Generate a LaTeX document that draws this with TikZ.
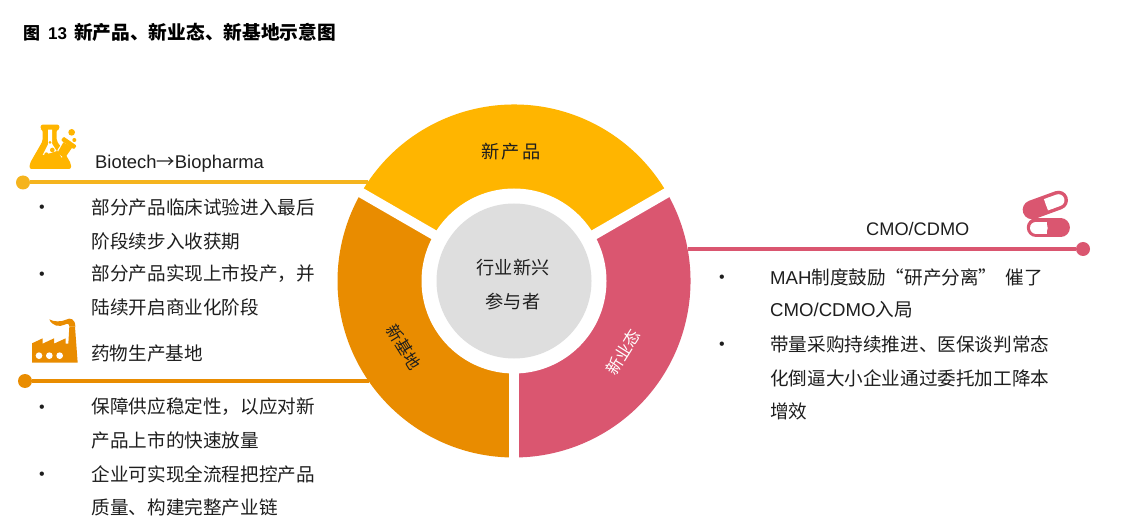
\documentclass[tikz,border=0pt]{standalone}
\usepackage{fontspec}
\usetikzlibrary{calc}
\setmainfont{Liberation Sans}
\newfontfamily\cjk{Noto Sans CJK SC}
\newcommand{\cj}[1]{{\cjk #1}}
\definecolor{cyel}{HTML}{FFB500}
\definecolor{corg}{HTML}{E98C00}
\definecolor{cpnk}{HTML}{DA5670}
\definecolor{cgry}{HTML}{DEDEDE}
\definecolor{cline}{HTML}{F5B41E}
\definecolor{ctxt}{HTML}{1E1E1E}
\tikzset{
  body/.style={anchor=west,inner sep=0pt,text=ctxt,font=\fontsize{18.6}{18.6}\selectfont},
  bul/.style={anchor=center,inner sep=0pt,text=ctxt,font=\fontsize{16}{16}\selectfont},
  seg/.style={inner sep=0pt,font=\fontsize{18.2}{18.2}\selectfont\cjk},
  dotn/.style={circle,inner sep=0pt,minimum size=14pt,fill=#1},
  conn/.style={line width=4pt,draw=#1},
  gap/.style={line width=10pt,draw=white},
  iconscope/.style={shift={#1},scale=1/3},
}
\begin{document}
\begin{tikzpicture}[x=1pt,y=-1pt]
\useasboundingbox (0,0) rectangle (1124,529);
\fill[white] (0,0) rectangle (1124,529);
\node[anchor=west,inner sep=0pt,text=black,font=\fontsize{17}{17}\selectfont\bfseries] (title) at (23,32)
  {\cj{图}\hspace{8pt}13\hspace{7pt}\cj{\fontsize{18.7}{18.7}\selectfont 新产品、新业态、新基地示意图}};
% ring
\coordinate (c) at (514,281);
\fill[cyel] (c) ++(210:176.5) arc[start angle=210,end angle=330,radius=176.5] -- (c) -- cycle;
\fill[cpnk] (c) ++(-30:176.5) arc[start angle=-30,end angle=90,radius=176.5] -- (c) -- cycle;
\fill[corg] (c) ++(90:176.5) arc[start angle=90,end angle=210,radius=176.5] -- (c) -- cycle;
\coordinate (g1) at ($(c)+(210:178)$);
\coordinate (g2) at ($(c)+(-30:178)$);
\coordinate (g3) at ($(c)+(90:178)$);
\draw[gap] (c) -- (g1);
\draw[gap] (c) -- (g2);
\draw[gap] (c) -- (g3);
\node[circle,fill=white,inner sep=0pt,minimum size=185pt] (hole) at (c) {};
\node[circle,fill=cgry,inner sep=0pt,minimum size=155pt] (core) at (c) {};
\node[seg,text=ctxt] (c1) at (513,268) {行业新兴};
\node[seg,text=ctxt] (c2) at (513,302) {参与者};
\node[seg,text=ctxt] (s1) at (511,152) {新\hspace{2pt}产\hspace{2pt}品};
\node[seg,text=ctxt,rotate=-58,font=\fontsize{16.5}{16.5}\selectfont\cjk] (s2) at (404,347) {新基地};
\node[seg,text=white,rotate=58,font=\fontsize{16.5}{16.5}\selectfont\cjk] (s3) at (623,352) {新业态};
% connectors
\node[dotn=cline] (d1) at (23,182.5) {};
\coordinate (e1) at (368,182.5);
\draw[conn=cline] (d1) -- (e1);
\node[dotn=corg] (d2) at (25,381) {};
\coordinate (e2) at (369,381);
\draw[conn=corg] (d2) -- (e2);
\node[dotn=cpnk] (d3) at (1083,249) {};
\coordinate (e3) at (688,249);
\draw[conn=cpnk] (d3) -- (e3);
% flask icon
\begin{scope}[iconscope={(20,115)}]
  \fill[cyel,rounded corners=2pt] (62,29) -- (118,29) -- (118,44) -- (110,44) -- (110,78) -- (126,100) -- (153,146) -- (153,162) -- (29,162) -- (29,146) -- (68,78) -- (68,44) -- (62,44) -- cycle;
  \fill[white] (84,44) -- (96,44) -- (96,86) -- (110,108) -- (92,114) -- (68,120) -- (84,88) -- cycle;
  \fill[cyel] (90,82) circle[radius=4.5];
  \fill[cyel] (97,105) circle[radius=7];
  \fill[cyel] (79,118) circle[radius=6];
  \fill[white] (126,84) -- (112,106) -- (125,128) -- (150,100) -- cycle;
  \fill[cyel] (130,82) -- (157,97) -- (134,130) -- (112,114) -- cycle;
  \fill[cyel,rounded corners=1pt] (131,65) -- (170,92) -- (162,103) -- (123,76) -- cycle;
  \fill[cyel] (155,52) circle[radius=10];
  \fill[cyel] (163,75) circle[radius=6];
\end{scope}
% factory icon
\begin{scope}[iconscope={(20,310)}]
  \fill[corg] (36,158) -- (36,100) -- (68,85) -- (68,101) -- (102,85) -- (102,101) -- (137,85) -- (137,101) -- (145,101) -- (148,50) -- (165,50) -- (173,158) -- cycle;
  \fill[corg] (88,28) .. controls (100,36) and (125,36) .. (138,29) .. controls (150,22) and (166,26) .. (166,50) -- (148,50) .. controls (148,40) and (142,40) .. (134,44) .. controls (118,52) and (96,48) .. (88,28) -- cycle;
  \fill[white] (57,137) circle[radius=10];
  \fill[white] (88,137) circle[radius=10];
  \fill[white] (119,137) circle[radius=10];
\end{scope}
% pills icon
\begin{scope}[iconscope={(1010,185)}]
  \begin{scope}[shift={(106,60)},rotate=20]
    \coordinate (p1a) at (-42,0);
    \coordinate (p1b) at (42,0);
    \coordinate (p1c) at (20,0);
    \coordinate (p1d) at (2,0);
    \draw[cpnk,line width=19pt,line cap=round] (p1a) -- (p1b);
    \draw[white,line width=12pt,line cap=round] (p1c) -- (p1b);
    \draw[white,line width=12pt] (p1d) -- (p1c);
  \end{scope}
  \begin{scope}[shift={(115,128)}]
    \coordinate (p2a) at (-37,0);
    \coordinate (p2b) at (37,0);
    \coordinate (p2c) at (-20,0);
    \coordinate (p2d) at (-3,0);
    \draw[cpnk,line width=18.5pt,line cap=round] (p2a) -- (p2b);
    \draw[white,line width=12pt,line cap=round] (p2a) -- (p2c);
    \draw[white,line width=12pt] (p2c) -- (p2d);
  \end{scope}
\end{scope}
% left top
\node[body,font=\fontsize{18.4}{18.4}\selectfont] (h1) at (95,164) {Biotech\cj{→}Biopharma};
\node[bul] (b1) at (42,209) {•};
\node[body] (t1) at (91.5,207) {\cj{部分产品临床试验进入最后}};
\node[body] (t2) at (91.5,241) {\cj{阶段续步入收获期}};
\node[bul] (b2) at (42,276) {•};
\node[body] (t3) at (91.5,274) {\cj{部分产品实现上市投产，并}};
\node[body] (t4) at (91.5,307) {\cj{陆续开启商业化阶段}};
% left bottom
\node[body] (h2) at (91,353) {\cj{药物生产基地}};
\node[bul] (b3) at (42,409) {•};
\node[body] (t5) at (91.5,407) {\cj{保障供应稳定性，以应对新}};
\node[body] (t6) at (91.5,440) {\cj{产品上市的快速放量}};
\node[bul] (b4) at (42,476) {•};
\node[body] (t7) at (91.5,474) {\cj{企业可实现全流程把控产品}};
\node[body] (t8) at (91.5,507) {\cj{质量、构建完整产业链}};
% right
\node[body,font=\fontsize{18.2}{18.2}\selectfont] (h3) at (866,229) {CMO/CDMO};
\node[bul] (b5) at (722,279) {•};
\node[body] (r1) at (770,277) {MAH\cj{制度鼓励“研产分离”\hspace{8pt}催了}};
\node[body] (r2) at (770,310) {CMO/CDMO\cj{入局}};
\node[bul] (b6) at (722,346) {•};
\node[body] (r3) at (770,344) {\cj{带量采购持续推进、医保谈判常态}};
\node[body] (r4) at (770,378) {\cj{化倒逼大小企业通过委托加工降本}};
\node[body] (r5) at (770,411) {\cj{增效}};
\end{tikzpicture}
\end{document}
